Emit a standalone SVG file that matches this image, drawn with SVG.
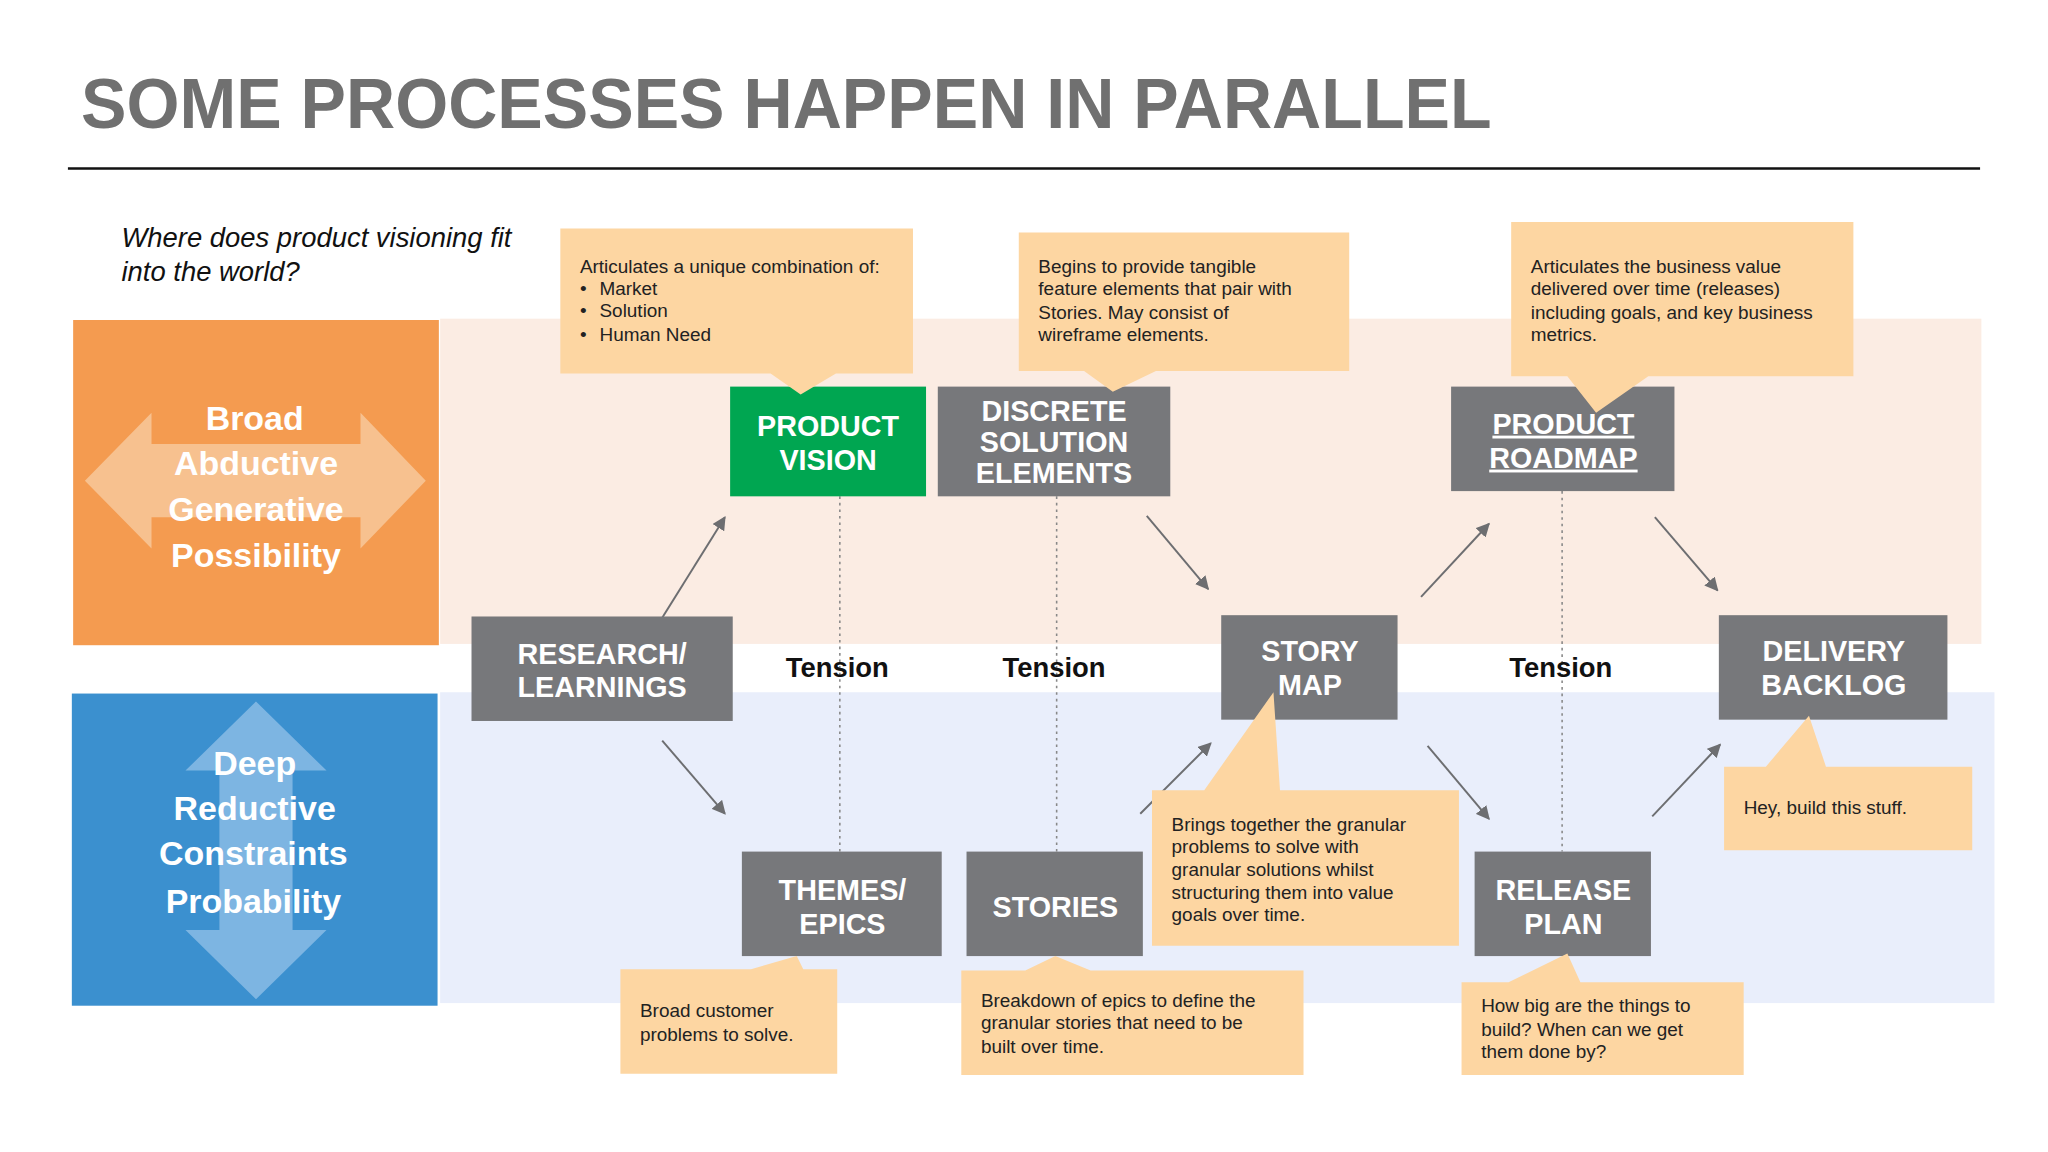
<svg xmlns="http://www.w3.org/2000/svg" width="2048" height="1152" viewBox="0 0 2048 1152">
<defs>
<style>
.node{fill:#77787b}
.nt{fill:#fff;font-family:"Liberation Sans",Arial,sans-serif;font-weight:bold;font-size:22px;text-anchor:middle}
.ct{fill:#222;font-family:"Liberation Sans",Arial,sans-serif;font-size:14.5px}
.co{fill:#fdd6a2}
.big{fill:#fff;font-family:"Liberation Sans",Arial,sans-serif;font-weight:bold;font-size:26px;text-anchor:middle}
.ten{fill:#111;font-family:"Liberation Sans",Arial,sans-serif;font-weight:bold;font-size:21px;text-anchor:middle}
.arr{stroke:#6d6e71;stroke-width:1.5;fill:none;marker-end:url(#ah)}
.dot{stroke:#888;stroke-width:1.2;stroke-dasharray:2 3}
</style>
<marker id="ah" viewBox="0 0 10 10" refX="9" refY="5" markerWidth="7" markerHeight="7" orient="auto"><path d="M0,0L10,5L0,10z" fill="#6d6e71"/></marker>
</defs>
<rect width="2048" height="1152" fill="#fff"/>
<g transform="scale(1.30612)">
<text x="62" y="98" font-family="Liberation Sans,Arial,sans-serif" font-weight="bold" font-size="54" fill="#707070" textLength="1080" lengthAdjust="spacingAndGlyphs">SOME PROCESSES HAPPEN IN PARALLEL</text>
<line x1="52" y1="129" x2="1516" y2="129" stroke="#111" stroke-width="2"/>
<text x="93" y="189" font-family="Liberation Sans,Arial,sans-serif" font-style="italic" font-size="21" fill="#111">Where does product visioning fit</text>
<text x="93" y="215" font-family="Liberation Sans,Arial,sans-serif" font-style="italic" font-size="21" fill="#111">into the world?</text>
<rect x="337" y="244" width="1180" height="249" fill="#fbece3"/>
<rect x="337" y="530" width="1190" height="238" fill="#e9eefb"/>
<rect x="56" y="245" width="280" height="249" fill="#f49b50"/>
<rect x="55" y="531" width="280" height="239" fill="#3b90cf"/>
<path d="M65,368L116,316V340H276V316L326,368L276,420V396H116V420Z" fill="#f7c18f"/>
<path d="M196,537L250,590H224V712H250L196,765L142,712H168V590H142Z" fill="#7db5e2"/>
<text class="big" x="195" y="329">Broad</text>
<text class="big" x="196" y="364">Abductive</text>
<text class="big" x="196" y="399">Generative</text>
<text class="big" x="196" y="434">Possibility</text>
<text class="big" x="195" y="593">Deep</text>
<text class="big" x="195" y="628">Reductive</text>
<text class="big" x="194" y="662">Constraints</text>
<text class="big" x="194" y="699">Probability</text>
<g id="connectors">
<line class="dot" x1="643" y1="380" x2="643" y2="652"/>
<line class="dot" x1="809" y1="380" x2="809" y2="652"/>
<line class="dot" x1="1196" y1="376" x2="1196" y2="652"/>
<line class="arr" x1="502" y1="481" x2="555" y2="396"/>
<line class="arr" x1="878" y1="395" x2="925" y2="451"/>
<line class="arr" x1="1088" y1="457" x2="1140" y2="401"/>
<line class="arr" x1="1267" y1="396" x2="1315" y2="452"/>
<line class="arr" x1="507" y1="567" x2="555" y2="623"/>
<line class="arr" x1="873" y1="623" x2="927" y2="569"/>
<line class="arr" x1="1093" y1="571" x2="1140" y2="627"/>
<line class="arr" x1="1265" y1="625" x2="1317" y2="570"/>
</g>
<text class="ten" x="641" y="518">Tension</text>
<text class="ten" x="807" y="518">Tension</text>
<text class="ten" x="1195" y="518">Tension</text>
<g id="n-vision"><rect x="559" y="296" width="150" height="84" fill="#00a651"/><text class="nt" x="634" y="334">PRODUCT</text><text class="nt" x="634" y="360">VISION</text></g>
<g id="n-discrete"><rect class="node" x="718" y="296" width="178" height="84"/><text class="nt" x="807" y="322">DISCRETE</text><text class="nt" x="807" y="346">SOLUTION</text><text class="nt" x="807" y="370">ELEMENTS</text></g>
<g id="n-roadmap"><rect class="node" x="1111" y="296" width="171" height="80"/><text class="nt" x="1197" y="332" text-decoration="underline">PRODUCT</text><text class="nt" x="1197" y="358" text-decoration="underline">ROADMAP</text></g>
<g id="n-research"><rect class="node" x="361" y="472" width="200" height="80"/><text class="nt" x="461" y="508">RESEARCH/</text><text class="nt" x="461" y="534">LEARNINGS</text></g>
<g id="n-storymap"><rect class="node" x="935" y="471" width="135" height="80"/><text class="nt" x="1003" y="506">STORY</text><text class="nt" x="1003" y="532">MAP</text></g>
<g id="n-backlog"><rect class="node" x="1316" y="471" width="175" height="80"/><text class="nt" x="1404" y="506">DELIVERY</text><text class="nt" x="1404" y="532">BACKLOG</text></g>
<g id="n-themes"><rect class="node" x="568" y="652" width="153" height="80"/><text class="nt" x="645" y="689">THEMES/</text><text class="nt" x="645" y="715">EPICS</text></g>
<g id="n-stories"><rect class="node" x="740" y="652" width="135" height="80"/><text class="nt" x="808" y="702">STORIES</text></g>
<g id="n-release"><rect class="node" x="1129" y="652" width="135" height="80"/><text class="nt" x="1197" y="689">RELEASE</text><text class="nt" x="1197" y="715">PLAN</text></g>
<g id="c1"><path class="co" d="M429,175H699V286H640L613,302L590,286H429Z"/><text class="ct" x="444" y="209">Articulates a unique combination of:</text><text class="ct" x="444" y="226">•</text><text class="ct" x="459" y="226">Market</text><text class="ct" x="444" y="243">•</text><text class="ct" x="459" y="243">Solution</text><text class="ct" x="444" y="261">•</text><text class="ct" x="459" y="261">Human Need</text></g>
<g id="c2"><path class="co" d="M780,178H1033V284H885L852,300L830,284H780Z"/><text class="ct" x="795" y="209">Begins to provide tangible</text><text class="ct" x="795" y="226">feature elements that pair with</text><text class="ct" x="795" y="244">Stories. May consist of</text><text class="ct" x="795" y="261">wireframe elements.</text></g>
<g id="c3"><path class="co" d="M1157,170H1419V288H1262L1222,316L1200,288H1157Z"/><text class="ct" x="1172" y="209">Articulates the business value</text><text class="ct" x="1172" y="226">delivered over time (releases)</text><text class="ct" x="1172" y="244">including goals, and key business</text><text class="ct" x="1172" y="261">metrics.</text></g>
<g id="c4"><path class="co" d="M882,605H922L975,530L980,605H1117V724H882Z"/><text class="ct" x="897" y="636">Brings together the granular</text><text class="ct" x="897" y="653">problems to solve with</text><text class="ct" x="897" y="671">granular solutions whilst</text><text class="ct" x="897" y="688">structuring them into value</text><text class="ct" x="897" y="705">goals over time.</text></g>
<g id="c5"><path class="co" d="M1320,587H1352L1385,548L1398,587H1510V651H1320Z"/><text class="ct" x="1335" y="623">Hey, build this stuff.</text></g>
<g id="c6"><path class="co" d="M475,742H575L610,732L615,742H641V822H475Z"/><text class="ct" x="490" y="779">Broad customer</text><text class="ct" x="490" y="797">problems to solve.</text></g>
<g id="c7"><path class="co" d="M736,743H785L808,732L835,743H998V823H736Z"/><text class="ct" x="751" y="771">Breakdown of epics to define the</text><text class="ct" x="751" y="788">granular stories that need to be</text><text class="ct" x="751" y="806">built over time.</text></g>
<g id="c8"><path class="co" d="M1119,752H1155L1200,730L1210,752H1335V823H1119Z"/><text class="ct" x="1134" y="775">How big are the things to</text><text class="ct" x="1134" y="793">build? When can we get</text><text class="ct" x="1134" y="810">them done by?</text></g>
</g>
</svg>
